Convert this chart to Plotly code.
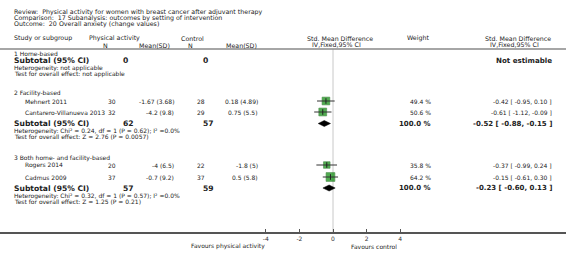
import plotly.graph_objects as go

# ---------------- data ----------------
review = "Review:  Physical activity for women with breast cancer after adjuvant therapy"
comparison = "Comparison:  17 Subanalysis: outcomes by setting of intervention"
outcome = "Outcome:  20 Overall anxiety (change values)"

groups = ["1 Home-based", "2 Facility-based", "3 Both home- and facility-based"]
studies = ["Mehnert 2011", "Cantarero-Villanueva 2013", "Rogers 2014", "Cadmus 2009"]
pa_n = [30, 32, 20, 37]
pa_mean = [-1.67, -4.2, -4, -0.7]
pa_sd = [3.68, 9.8, 6.5, 9.2]
ctrl_n = [28, 29, 22, 37]
ctrl_mean = [0.18, 0.75, -1.8, 0.5]
ctrl_sd = [4.89, 5.5, 5, 5.8]
weight = [49.4, 50.6, 35.8, 64.2]
smd = [-0.42, -0.61, -0.37, -0.15]
ci_lo = [-0.95, -1.12, -0.99, -0.61]
ci_hi = [0.10, -0.09, 0.24, 0.30]

sub_pa_n = [0, 62, 57]
sub_ctrl_n = [0, 57, 59]
sub_weight = [None, 100.0, 100.0]
sub_smd = [None, -0.52, -0.23]
sub_lo = [None, -0.88, -0.60]
sub_hi = [None, -0.15, 0.13]
heterogeneity = ["Heterogeneity: not applicable",
                 "Heterogeneity: Chi² = 0.24, df = 1 (P = 0.62); I² =0.0%",
                 "Heterogeneity: Chi² = 0.32, df = 1 (P = 0.57); I² =0.0%"]
overall = ["Test for overall effect: not applicable",
           "Test for overall effect: Z = 2.76 (P = 0.0057)",
           "Test for overall effect: Z = 1.25 (P = 0.21)"]
ticks = [-4, -2, 0, 2, 4]
favours_left = "Favours physical activity"
favours_right = "Favours control"

# ---------------- layout geometry (pixels) ----------------
W, H = 566, 261
ZERO_PX, UNIT_PX = 333, 16.8
AXIS_Y = 233
group_y = [53.5, 93, 158]
study_y = [101, 112, 165, 177]
sub_y = [60.5, 123.5, 188]
het_y = [67.5, 131, 196]
ov_y = [74, 136.5, 201.5]

TXT = "#222222"
FONT = "DejaVu Sans"
HEAD = 6.3
BODY = 6.0
SUB = 7.6

fig = go.Figure()
ann = []


def txt(x, y, s, anchor="left", size=BODY, bold=False, color=TXT):
    ann.append(dict(x=x / W, y=y, xref="paper", yref="y", text=("<b>%s</b>" % s) if bold else s,
                    showarrow=False, xanchor=anchor, yanchor="middle", borderpad=0,
                    font=dict(family=FONT, size=size, color=color)))


def fmt(v):
    return "%g" % v


# header
txt(13, 12, review, size=HEAD)
txt(13, 18, comparison, size=HEAD)
txt(13, 24, outcome, size=HEAD)
txt(13, 38, "Study or subgroup", size=HEAD)
txt(88, 38, "Physical activity", size=HEAD)
txt(102, 45, "N", size=HEAD)
txt(138, 45, "Mean(SD)", size=HEAD)
txt(180, 38, "Control", size=HEAD)
txt(187, 45, "N", size=HEAD)
txt(225, 45, "Mean(SD)", size=HEAD)
txt(306, 38, "Std. Mean Difference", size=HEAD)
txt(311, 44, "IV,Fixed,95% CI", size=HEAD)
txt(406, 38, "Weight", size=HEAD)
txt(484, 38, "Std. Mean Difference", size=HEAD)
txt(489, 44, "IV,Fixed,95% CI", size=HEAD)

# groups
for g in range(3):
    txt(13, group_y[g], groups[g])
    txt(13, sub_y[g], "Subtotal (95% CI)", size=SUB, bold=True)
    txt(122, sub_y[g], str(sub_pa_n[g]), size=SUB, bold=True)
    txt(202, sub_y[g], str(sub_ctrl_n[g]), size=SUB, bold=True)
    txt(13, het_y[g], heterogeneity[g])
    txt(13, ov_y[g], overall[g])
    if sub_smd[g] is None:
        txt(553, sub_y[g], "Not estimable", anchor="right", size=7.1, bold=True)
    else:
        txt(432, sub_y[g], "%.1f %%" % sub_weight[g], anchor="right", size=7, bold=True)
        txt(553, sub_y[g], "%.2f [ %.2f, %.2f ]" % (sub_smd[g], sub_lo[g], sub_hi[g]),
            anchor="right", size=7, bold=True)

# studies
for i in range(len(studies)):
    y = study_y[i]
    txt(24, y, studies[i])
    txt(117, y, str(pa_n[i]), anchor="right")
    txt(175, y, "%s (%s)" % (fmt(pa_mean[i]), fmt(pa_sd[i])), anchor="right")
    txt(206, y, str(ctrl_n[i]), anchor="right")
    txt(259, y, "%s (%s)" % (fmt(ctrl_mean[i]), fmt(ctrl_sd[i])), anchor="right")
    txt(432, y, "%.1f %%" % weight[i], anchor="right")
    txt(553, y, "%.2f [ %.2f, %.2f ]" % (smd[i], ci_lo[i], ci_hi[i]), anchor="right")

txt(266, 246, favours_left, anchor="right")
txt(350, 246, favours_right)

# squares
fig.add_trace(go.Scatter(
    x=smd, y=study_y, mode="markers",
    marker=dict(symbol="square", size=[1.1 * w ** 0.5 for w in weight],
                color="#078a07", line=dict(color="#045e04", width=0.6)),
    hoverinfo="skip", showlegend=False))

# CI lines
cx, cy = [], []
for i in range(len(studies)):
    cx += [ci_lo[i], ci_hi[i], None]
    cy += [study_y[i], study_y[i], None]
fig.add_trace(go.Scatter(x=cx, y=cy, mode="lines", line=dict(color="#333333", width=1),
                         hoverinfo="skip", showlegend=False))
fig.add_trace(go.Scatter(x=smd, y=study_y, mode="markers",
                         marker=dict(symbol="line-ns", size=4, line=dict(color="#222222", width=1)),
                         hoverinfo="skip", showlegend=False))

# diamonds
for g in range(3):
    if sub_smd[g] is None:
        continue
    y = sub_y[g]
    fig.add_trace(go.Scatter(
        x=[sub_lo[g], sub_smd[g], sub_hi[g], sub_smd[g], sub_lo[g]],
        y=[y, y - 3, y, y + 3, y], mode="lines", fill="toself",
        fillcolor="#000000", line=dict(color="#000000", width=0.5),
        hoverinfo="skip", showlegend=False))

shapes = [
    dict(type="line", xref="paper", yref="y", x0=0, x1=1, y0=49, y1=49,
         line=dict(color="#888888", width=1.5)),
    dict(type="line", xref="x", yref="y", x0=0, x1=0, y0=49, y1=AXIS_Y,
         line=dict(color="#c8c8c8", width=1), layer="below"),
]

fig.update_layout(
    width=W, height=H, margin=dict(l=0, r=0, t=0, b=0, autoexpand=False),
    paper_bgcolor="white", plot_bgcolor="white",
    annotations=ann, shapes=shapes, showlegend=False,
    xaxis=dict(range=[-ZERO_PX / UNIT_PX, (W - ZERO_PX) / UNIT_PX], domain=[0, 1],
               anchor="free", position=1 - AXIS_Y / H, automargin=False,
               showline=True, linecolor="#555555", linewidth=1.5,
               ticks="inside", ticklen=3, tickcolor="#555555",
               tickvals=ticks, ticktext=[str(t) for t in ticks],
               tickfont=dict(family=FONT, size=BODY, color="#333333"),
               showgrid=False, zeroline=False, fixedrange=True),
    yaxis=dict(range=[H, 0], domain=[0, 1], visible=False, showgrid=False,
               zeroline=False, fixedrange=True, automargin=False),
)

fig.write_html("out.html", config={"displayModeBar": False},
               post_script="document.body.style.margin='0';document.body.style.padding='0';")
